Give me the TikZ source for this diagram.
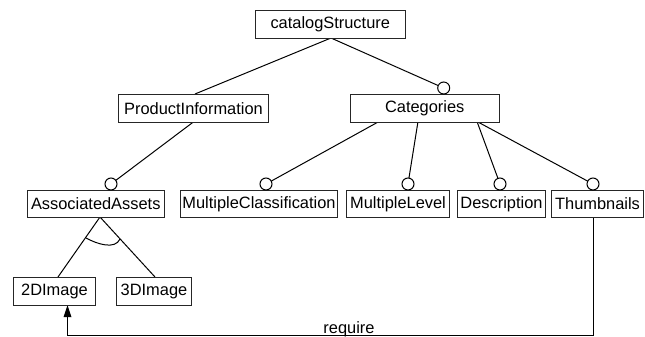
\documentclass[tikz,border=0pt]{standalone}
\usepackage{fontspec}
\setmainfont{Liberation Sans}
\tikzset{
  feat/.style={draw=black!85,line width=1pt,fill=white,inner sep=0pt,font=\fontsize{16.4}{18}\selectfont,anchor=north west},
  opt/.style={circle,draw=black,line width=1pt,fill=white,minimum size=12pt,inner sep=0pt},
  link/.style={draw=black,line width=1pt}
}
\newcommand{\featbox}[6]{\node[feat,minimum width=#4pt-#2pt,minimum height=#5pt-#3pt] (#1) at (#2,#3) {#6};}
\begin{document}
\begin{tikzpicture}[x=1pt,y=-1pt]
\useasboundingbox (0,0) rectangle (645,337);
\coordinate (csb) at (331,38);
\coordinate (pit) at (195,94);
\coordinate (pib) at (194,121.5);
\coordinate (c1) at (379,121.5);
\coordinate (c2) at (418,121.5);
\coordinate (c3) at (477,121.5);
\coordinate (apex) at (100,217);
\coordinate (twot) at (58,277);
\coordinate (threet) at (155,277);
\coordinate (thb) at (593,217);
\coordinate (reqa) at (593,335);
\coordinate (reqb) at (67.5,335);
\coordinate (reqc) at (67.5,316);
\coordinate (arcl) at (86,238);
\coordinate (arcr) at (120,239);
\draw[link] (csb) -- (pit);
\draw[link] (csb) -- (443.7,88);
\draw[link] (pib) -- (111,184);
\draw[link] (c1) -- (266,184);
\draw[link] (c2) -- (408,184);
\draw[link] (c3) -- (500,184);
\draw[link] (c3) -- (593,184);
\draw[link] (apex) -- (twot);
\draw[link] (apex) -- (threet);
\draw[link] (arcl) .. controls (97,244) and (115,250) .. (arcr);
\draw[link] (thb) -- (reqa) -- (reqb) -- (reqc);
\fill[black] (67.5,305) -- (63.5,317) -- (71.5,317) -- cycle;
\featbox{cs}{254.5}{10}{405}{38}{catalogStructure}
\featbox{pi}{118}{94}{268}{121.5}{ProductInformation}
\featbox{cat}{349.5}{94}{499}{121.5}{Categories}
\featbox{aa}{26.5}{190}{164}{217}{AssociatedAssets}
\featbox{mc}{180}{190}{337}{217}{MultipleClassification}
\featbox{ml}{346}{190}{449}{217}{MultipleLevel}
\featbox{de}{457}{190}{545}{217}{Description}
\featbox{th}{551}{190}{643}{217}{Thumbnails}
\featbox{twod}{13}{277}{95}{305}{2DImage}
\featbox{threed}{116}{277}{191}{305}{3DImage}
\node[opt] (ocat) at (443.7,88) {};
\node[opt] (oaa) at (111,184) {};
\node[opt] (omc) at (266,184) {};
\node[opt] (oml) at (408,184) {};
\node[opt] (ode) at (500,184) {};
\node[opt] (oth) at (593,184) {};
\node[font=\fontsize{16.4}{18}\selectfont,inner sep=0pt] (req) at (349,329.5) {require};
\end{tikzpicture}
\end{document}
